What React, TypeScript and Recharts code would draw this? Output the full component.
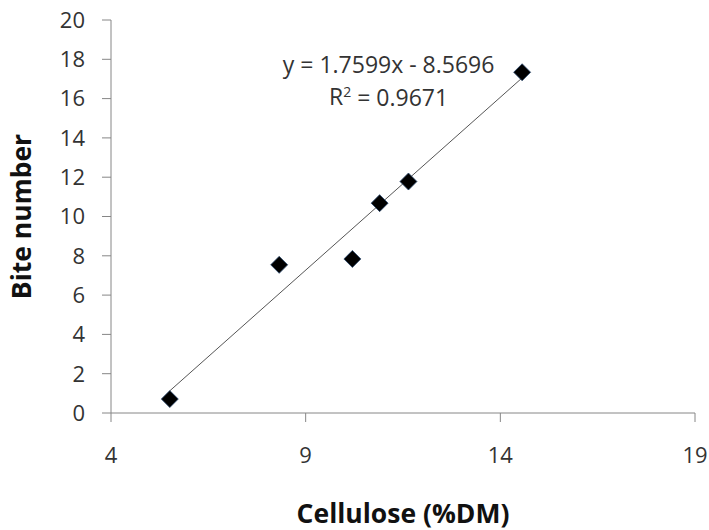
import React from 'react';
import { ScatterChart, Scatter, XAxis, YAxis, ReferenceLine, ReferenceDot, Label } from 'recharts';

// cellulose (%DM) vs bite number
const cellulose = [5.51, 8.32, 10.2, 10.9, 11.64, 14.56];
const biteNumber = [0.71, 7.54, 7.84, 10.68, 11.78, 17.34];

const xTicks = [4, 9, 14, 19];
const yTicks = [0, 2, 4, 6, 8, 10, 12, 14, 16, 18, 20];

// trendline as printed on the chart
const slope = 1.7599;
const intercept = -8.5696;
const r2 = 0.9671;
const trendX = [5.51, 14.56];
const eqPos = { x: 11.13, y: 17.7 };
const r2Pos = { x: 11.13, y: 16.08 };

const points = cellulose.map((c, i) => ({ x: c, y: biteNumber[i] }));

const FONT = '"Open Sans", Lato, sans-serif';
const AXIS = '#868686';
const TEXT = '#333333';

const Diamond = (props: any) => {
  const { cx, cy } = props;
  const s = 8.5;
  return (
    <path
      d={`M${cx},${cy - s} L${cx + s},${cy} L${cx},${cy + s} L${cx - s},${cy} Z`}
      fill="#000"
      stroke="#2c4a6e"
      strokeWidth={0.8}
    />
  );
};

export default function App() {
  return (
    <div style={{ position: 'absolute', left: 0, top: 0, background: '#fff' }}>
      <ScatterChart width={709} height={530} margin={{ top: 20, right: 14, bottom: 0, left: 0 }}>
        <XAxis
          type="number"
          dataKey="x"
          domain={[4, 19]}
          ticks={xTicks}
          allowDataOverflow
          height={117}
          stroke={AXIS}
          tickSize={9}
          tickMargin={25}
          tick={{ fill: TEXT, fontSize: 22, fontFamily: FONT }}
        >
          <Label
            content={(p: any) => (
              <text
                x={p.viewBox.x + p.viewBox.width / 2}
                y={p.viewBox.y + 110}
                textAnchor="middle"
                fontFamily={FONT}
                fontWeight="bold"
                fontSize={26.5}
                fill="#111"
              >
                Cellulose (%DM)
              </text>
            )}
          />
        </XAxis>
        <YAxis
          type="number"
          dataKey="y"
          domain={[0, 20]}
          ticks={yTicks}
          allowDataOverflow
          width={111}
          stroke={AXIS}
          tickSize={9}
          tickMargin={17}
          tick={{ fill: TEXT, fontSize: 22, fontFamily: FONT }}
        >
          <Label
            content={(p: any) => {
              const cx = p.viewBox.x + 31;
              const cy = p.viewBox.y + p.viewBox.height / 2;
              return (
                <text
                  x={cx}
                  y={cy}
                  transform={`rotate(-90 ${cx} ${cy})`}
                  textAnchor="middle"
                  fontFamily={FONT}
                  fontWeight="bold"
                  fontSize={26.5}
                  fill="#111"
                >
                  Bite number
                </text>
              );
            }}
          />
        </YAxis>
        <ReferenceLine
          segment={[
            { x: trendX[0], y: slope * trendX[0] + intercept },
            { x: trendX[1], y: slope * trendX[1] + intercept },
          ]}
          stroke="#555"
          strokeWidth={1}
        />
        <Scatter data={points} shape={Diamond} isAnimationActive={false} />
        <ReferenceDot
          x={eqPos.x}
          y={eqPos.y}
          r={0}
          shape={(p: any) => (
            <text x={p.cx} y={p.cy} dy="0.35em" textAnchor="middle" fontFamily={FONT} fontSize={23} fill={TEXT}>
              {`y = ${slope}x - ${Math.abs(intercept)}`}
            </text>
          )}
        />
        <ReferenceDot
          x={r2Pos.x}
          y={r2Pos.y}
          r={0}
          shape={(p: any) => (
            <text x={p.cx} y={p.cy} dy="0.35em" textAnchor="middle" fontFamily={FONT} fontSize={23} fill={TEXT}>
              R<tspan fontSize={14} dy="-0.6em">2</tspan>
              <tspan dy="0.4em">{` = ${r2}`}</tspan>
            </text>
          )}
        />
      </ScatterChart>
    </div>
  );
}
